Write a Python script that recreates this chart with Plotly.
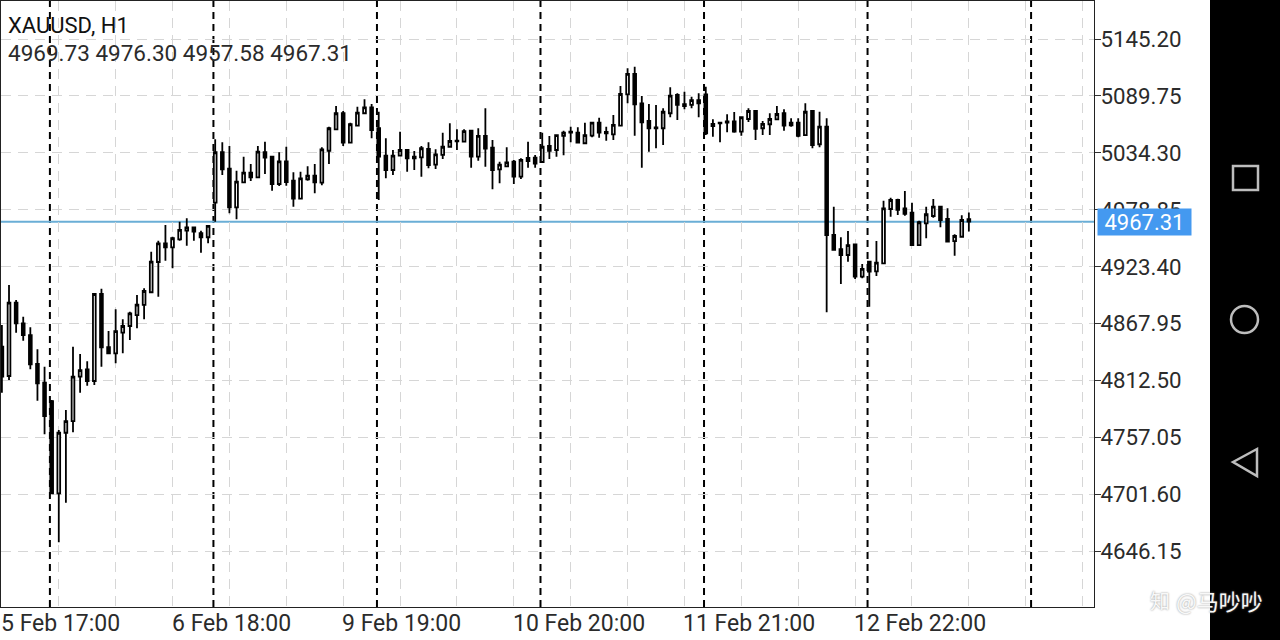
import plotly.graph_objects as go

# XAUUSD H1 candles
opens = [4845.4, 4816.9, 4888.3, 4868.2, 4856.8, 4828.6, 4810.4, 4792.5, 4702.6, 4761.6,
         4773.0, 4816.2, 4823.4, 4812.0, 4896.8, 4844.9, 4839.0, 4859.1, 4865.6, 4876.3,
         4886.1, 4898.5, 4928.0, 4946.2, 4942.3, 4950.1, 4958.5, 4961.8, 4956.0, 4952.1,
         4985.8, 5034.9, 5018.9, 4981.3, 5005.6, 5015.0, 5010.5, 5034.9, 5030.6, 5004.0,
         5026.1, 5007.2, 4989.7, 5008.6, 5012.1, 5005.3, 5036.4, 5057.3, 5072.9, 5044.2,
         5060.8, 5072.9, 5078.7, 5058.3, 5031.6, 5017.6, 5031.6, 5037.1, 5030.6, 5030.0,
         5038.1, 5022.8, 5032.3, 5040.3, 5046.2, 5045.2, 5055.9, 5030.6, 5050.8, 5039.4,
         5018.3, 5021.2, 5025.7, 5011.1, 5026.4, 5029.6, 5025.4, 5041.0, 5037.1, 5050.8,
         5055.0, 5054.0, 5043.7, 5051.1, 5063.7, 5054.7, 5052.4, 5060.8, 5091.4, 5111.2,
         5082.6, 5065.4, 5059.2, 5058.3, 5072.9, 5090.7, 5081.7, 5081.0, 5085.8, 5091.4,
         5062.5, 5063.7, 5065.1, 5065.1, 5055.0, 5067.3, 5075.1, 5058.3, 5062.2, 5067.0,
         5072.9, 5063.7, 5063.7, 5051.7, 5075.1, 5042.7, 5059.8, 4954.3, 4940.4, 4934.8,
         4945.2, 4913.7, 4928.3, 4918.9, 4926.7, 4979.6, 4988.4, 4980.3, 4976.0, 4944.5,
         4965.7, 4972.8, 4981.9, 4969.9, 4948.4, 4952.6, 4969.73]
highs = [4866.6, 4905.6, 4891.0, 4874.7, 4864.3, 4842.9, 4825.9, 4793.5, 4764.3, 4783.8,
         4845.4, 4838.3, 4831.2, 4897.5, 4902.0, 4860.7, 4881.9, 4872.1, 4879.5, 4895.8,
         4902.4, 4938.0, 4948.7, 4964.0, 4952.6, 4967.3, 4970.6, 4962.4, 4958.5, 4964.0,
         5047.6, 5044.6, 5041.0, 5017.0, 5030.6, 5023.5, 5041.0, 5045.2, 5030.6, 5034.9,
         5040.3, 5015.4, 5016.0, 5021.2, 5023.5, 5039.8, 5059.8, 5080.0, 5075.1, 5063.7,
         5079.3, 5086.5, 5082.0, 5074.4, 5048.5, 5037.1, 5055.0, 5037.1, 5036.2, 5041.0,
         5044.6, 5037.8, 5054.0, 5063.1, 5057.3, 5057.3, 5056.6, 5058.3, 5077.8, 5046.9,
         5025.7, 5039.8, 5027.4, 5029.0, 5045.2, 5032.3, 5054.0, 5050.8, 5052.4, 5055.9,
         5059.8, 5059.2, 5063.7, 5063.7, 5068.6, 5059.8, 5071.2, 5099.5, 5116.7, 5118.3,
         5089.7, 5082.0, 5081.0, 5077.8, 5098.2, 5092.4, 5093.9, 5089.1, 5092.4, 5098.8,
         5067.0, 5063.7, 5071.9, 5074.2, 5069.6, 5077.8, 5075.1, 5065.4, 5072.9, 5080.0,
         5076.8, 5068.0, 5068.0, 5082.6, 5076.1, 5074.4, 5068.0, 4981.9, 4952.1, 4958.2,
         4945.5, 4926.0, 4928.3, 4948.4, 4987.7, 4990.6, 4989.7, 4997.2, 4985.8, 4968.2,
         4981.9, 4989.4, 4981.9, 4980.3, 4955.0, 4973.5, 4976.30]
lows = [4800.6, 4813.0, 4859.1, 4851.3, 4823.4, 4792.8, 4760.1, 4702.0, 4654.8, 4693.4,
        4762.0, 4800.6, 4807.4, 4808.1, 4825.9, 4838.0, 4829.3, 4839.0, 4852.0, 4863.4,
        4872.1, 4897.5, 4894.2, 4929.3, 4921.8, 4948.7, 4943.9, 4948.7, 4937.0, 4946.2,
        4967.3, 5012.8, 4975.4, 4969.6, 5005.6, 5006.9, 5010.5, 5013.7, 4997.5, 5002.0,
        5002.3, 4981.9, 4989.1, 5007.2, 4994.9, 5002.7, 5023.5, 5056.6, 5041.0, 5043.9,
        5060.5, 5071.9, 5048.5, 4988.4, 5009.5, 5012.8, 5031.3, 5016.0, 5017.6, 5011.1,
        5019.3, 5018.6, 5028.4, 5039.8, 5037.1, 5044.6, 5019.9, 5026.7, 5020.9, 4998.8,
        5004.7, 5020.9, 5004.0, 5008.9, 5019.9, 5019.9, 5025.4, 5028.4, 5030.6, 5032.0,
        5044.6, 5044.2, 5043.7, 5049.5, 5049.1, 5046.2, 5046.9, 5060.8, 5082.6, 5051.1,
        5019.9, 5035.5, 5038.8, 5042.0, 5069.0, 5066.4, 5076.8, 5077.8, 5069.0, 5051.7,
        5050.1, 5044.6, 5054.4, 5054.0, 5051.1, 5064.4, 5046.9, 5051.7, 5051.7, 5066.4,
        5055.9, 5059.8, 5049.5, 5051.7, 5038.8, 5039.8, 4879.0, 4939.7, 4906.5, 4928.3,
        4911.4, 4912.1, 4884.4, 4914.3, 4926.7, 4972.1, 4973.8, 4973.1, 4944.5, 4944.5,
        4951.1, 4971.2, 4961.8, 4947.2, 4934.1, 4952.6, 4957.58]
closes = [4816.2, 4888.3, 4868.2, 4856.8, 4828.3, 4809.8, 4777.9, 4702.6, 4761.6, 4773.0,
          4816.2, 4822.7, 4812.0, 4896.8, 4844.9, 4839.0, 4860.7, 4865.6, 4878.0, 4886.4,
          4899.7, 4928.3, 4946.2, 4942.3, 4951.1, 4959.2, 4961.8, 4957.5, 4952.1, 4963.1,
          5034.9, 5018.3, 4981.3, 5006.2, 5015.0, 5010.5, 5035.5, 5029.6, 5004.0, 5026.1,
          5005.9, 4989.7, 5009.5, 5012.1, 5005.6, 5037.8, 5058.3, 5072.9, 5044.2, 5062.2,
          5073.5, 5078.7, 5056.6, 5030.6, 5017.6, 5031.6, 5037.1, 5029.0, 5029.0, 5038.8,
          5022.5, 5032.9, 5040.3, 5045.9, 5045.6, 5055.6, 5030.6, 5050.8, 5038.4, 5017.6,
          5022.8, 5025.1, 5011.1, 5027.4, 5029.3, 5023.8, 5040.3, 5036.4, 5051.7, 5054.0,
          5054.0, 5044.2, 5051.7, 5063.7, 5054.0, 5053.4, 5061.5, 5091.7, 5111.2, 5081.7,
          5064.1, 5058.3, 5058.3, 5074.4, 5090.0, 5081.0, 5080.0, 5085.8, 5082.6, 5053.4,
          5060.5, 5063.1, 5063.7, 5055.0, 5069.0, 5075.1, 5057.6, 5062.5, 5067.3, 5072.2,
          5060.8, 5061.2, 5050.8, 5074.4, 5042.0, 5059.8, 4954.3, 4939.7, 4934.8, 4944.5,
          4913.7, 4921.2, 4918.5, 4927.3, 4980.3, 4988.4, 4978.7, 4974.8, 4944.5, 4966.7,
          4974.5, 4981.9, 4968.9, 4947.8, 4953.3, 4968.9, 4967.31]
bars = list(range(len(opens)))

price_ticks = [5145.20, 5089.75, 5034.30, 4978.85, 4923.40, 4867.95, 4812.50, 4757.05, 4701.60, 4646.15]
last_price = 4967.31
time_bars = [0, 24, 48, 72, 96, 120]
time_labels = ['5 Feb 17:00', '6 Feb 18:00', '9 Feb 19:00', '10 Feb 20:00', '11 Feb 21:00', '12 Feb 22:00']
day_breaks = [6.75, 29.75, 52.75, 75.75, 98.75, 121.75, 144.75]

FONT = 'Roboto'
TEXT = '#2b2b2b'
LEFT, RIGHT, TOP, BOTTOM = 1, 1094, 1, 607


# pixel helpers for the phone nav bar, which isn't part of the data
def fx(px):
    return (px - LEFT) / (RIGHT - LEFT)


def fy(py):
    return 1 - (py - TOP) / (BOTTOM - TOP)


fig = go.Figure()
fig.add_trace(go.Candlestick(
    x=bars, open=opens, high=highs, low=lows, close=closes,
    increasing=dict(line=dict(color='#000000', width=1.8), fillcolor='#ffffff'),
    decreasing=dict(line=dict(color='#000000', width=1.8), fillcolor='#000000'),
    whiskerwidth=0, showlegend=False,
))

# period separators and the last price line
for b in day_breaks:
    fig.add_shape(type='line', x0=b, x1=b, yref='paper', y0=0, y1=1, layer='below',
                  line=dict(color='#000000', width=2, dash='7px,5px'))
fig.add_shape(type='line', xref='paper', x0=0, x1=1, y0=last_price, y1=last_price, layer='below',
              line=dict(color='#6aaed6', width=2))

# phone nav bar on the right
nav = dict(color='#bdbdbd', width=2.5)
fig.add_shape(type='rect', xref='paper', yref='paper', x0=fx(1210), x1=fx(1280), y0=fy(640), y1=fy(0),
              fillcolor='#000000', line=dict(width=0), layer='above')
fig.add_shape(type='rect', xref='paper', yref='paper', x0=fx(1233), x1=fx(1258), y0=fy(190), y1=fy(166),
              line=nav, layer='above')
fig.add_shape(type='circle', xref='paper', yref='paper', x0=fx(1231), x1=fx(1258), y0=fy(333), y1=fy(306),
              line=nav, layer='above')
fig.add_shape(type='path', xref='paper', yref='paper', layer='above', line=nav,
              path=f'M {fx(1233)} {fy(462)} L {fx(1257)} {fy(449)} L {fx(1257)} {fy(476)} Z')

# header, time labels, price tag, watermark
fig.add_annotation(xref='paper', yref='paper', x=fx(6), y=fy(25), xanchor='left', yanchor='middle',
                   text='XAUUSD, H1', showarrow=False, font=dict(family=FONT, size=22, color='#111111'))
fig.add_annotation(xref='paper', yref='paper', x=fx(6), y=fy(53), xanchor='left', yanchor='middle',
                   text='4969.73 4976.30 4957.58 4967.31', showarrow=False,
                   font=dict(family=FONT, size=22.5, color=TEXT))
for b, label in zip(time_bars, time_labels):
    fig.add_annotation(x=b, yref='paper', y=fy(623), xanchor='left', yanchor='middle', text=label, xshift=-3,
                       showarrow=False, font=dict(family=FONT, size=23, color=TEXT))
fig.add_annotation(xref='paper', y=last_price, x=fx(1144.5), xanchor='center', yanchor='middle',
                   text=f'{last_price:.2f}', showarrow=False, bgcolor='#4499f0', width=91, height=24,
                   font=dict(family=FONT, size=22, color='#ffffff'))
fig.add_annotation(xref='paper', yref='paper', x=fx(1174), y=fy(600), xanchor='left', yanchor='middle',
                   text='@马吵吵', showarrow=False,
                   font=dict(family='Noto Sans CJK SC', size=22, color='#f8f8f8', shadow='0px 0px 2px #888888'))
fig.add_annotation(xref='paper', yref='paper', x=fx(1148), y=fy(600), xanchor='left', yanchor='middle',
                   text='知', showarrow=False,
                   font=dict(family='Noto Sans CJK SC', size=20, color='#f8f8f8', shadow='0px 0px 2px #888888'))

fig.update_xaxes(
    range=[-0.127, 153.6], tick0=0, dtick=8, showticklabels=False, ticks='',
    rangeslider_visible=False,
    showgrid=True, gridcolor='#d6d6d6', gridwidth=1, griddash='10px,7px',
    showline=True, mirror=True, linecolor='#222222', linewidth=1, zeroline=False,
)
fig.update_yaxes(
    range=[4591.8, 5182.3], side='right', tickvals=price_ticks,
    ticktext=[f'{p:.2f}' for p in price_ticks],
    ticks='outside', ticklen=6, tickcolor='#333333', ticklabelstandoff=-5,
    tickfont=dict(family=FONT, size=22.3, color=TEXT),
    showgrid=True, gridcolor='#d6d6d6', gridwidth=1, griddash='10px,7px',
    showline=True, mirror=True, linecolor='#222222', linewidth=1, zeroline=False,
)
fig.update_layout(
    width=1280, height=640,
    margin=dict(l=LEFT, r=1280 - RIGHT, t=TOP, b=640 - BOTTOM, pad=0),
    paper_bgcolor='#ffffff', plot_bgcolor='#ffffff',
    boxgap=0.45, hovermode=False, dragmode=False,
)

fig.write_html("out.html", config={'displayModeBar': False},
               post_script="document.body.style.margin='0';document.body.style.overflow='hidden';")
